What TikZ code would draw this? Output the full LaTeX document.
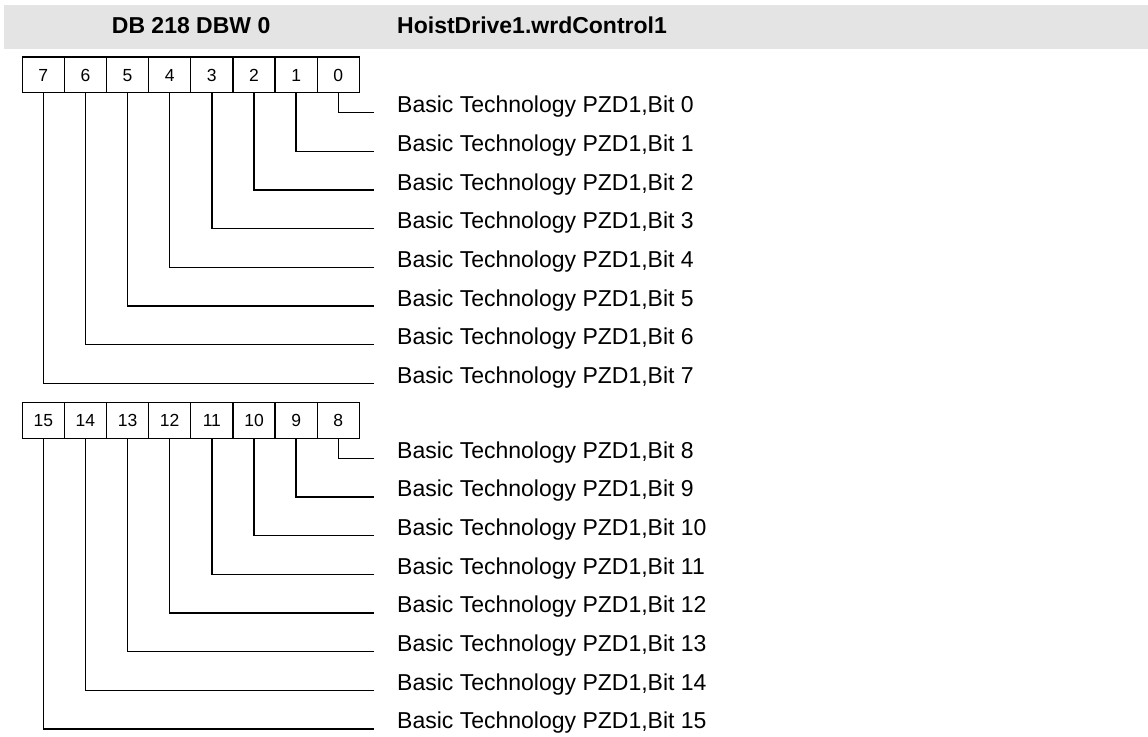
\documentclass[tikz,border=0pt]{standalone}
\usepackage{fontspec}
\setmainfont{Liberation Sans}
\definecolor{bandgray}{HTML}{E4E4E4}
\tikzset{
  cell/.style={draw, line width=1.4pt, minimum width=42.14pt, minimum height=35.5pt, inner sep=0pt,
    font=\fontsize{17.5}{20}\selectfont, text height=12.5pt, text depth=0pt},
  lbl/.style={anchor=base west, inner sep=0pt, font=\fontsize{23}{27}\selectfont},
  hdr/.style={anchor=base west, inner sep=0pt, font=\fontsize{23}{27}\selectfont\bfseries},
  wire/.style={line width=1.4pt}
}
\begin{document}
\begin{tikzpicture}[x=1pt,y=-1pt]
\useasboundingbox (0,0) rectangle (1148,736);
\fill[bandgray] (4,5) rectangle (1148,49);
\node[hdr] (h1) at (111.7,33.3) {DB 218 DBW 0};
\node[hdr] (h2) at (397,33.3) {HoistDrive1.wrdControl1};
% top byte: bits 7..0
\foreach \b in {0,...,7}{
  \pgfmathsetmacro{\cx}{43.3+42.14*(7-\b)}
  \pgfmathsetmacro{\ly}{112.7+38.66*\b}
  \node[cell] (c\b) at (\cx,74.8) {\b};
  \coordinate (e\b) at (374,\ly);
  \node[lbl] (l\b) at (397,\ly) {Basic Technology PZD1,Bit \b};
  \draw[wire] (c\b.south) |- (e\b);
}
% bottom byte: bits 15..8
\foreach \b in {8,...,15}{
  \pgfmathsetmacro{\cx}{43.3+42.14*(15-\b)}
  \pgfmathsetmacro{\ly}{458.3+38.66*(\b-8)}
  \node[cell] (c\b) at (\cx,420.5) {\b};
  \coordinate (e\b) at (374,\ly);
  \node[lbl] (l\b) at (397,\ly) {Basic Technology PZD1,Bit \b};
  \draw[wire] (c\b.south) |- (e\b);
}
\end{tikzpicture}
\end{document}
